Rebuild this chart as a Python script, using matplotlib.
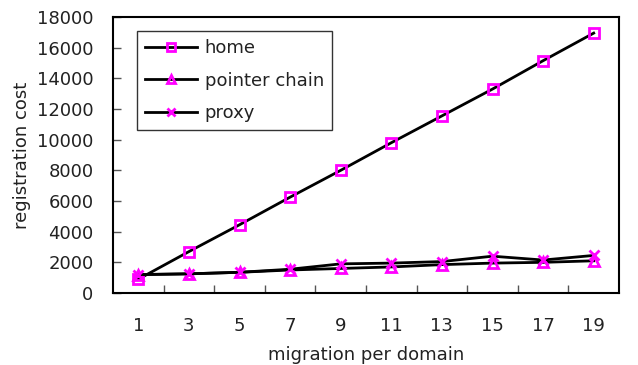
import matplotlib
matplotlib.use("Agg")
import matplotlib.pyplot as plt
import numpy as np

categories = ["1", "3", "5", "7", "9", "11", "13", "15", "17", "19"]
home = [900, 2700, 4450, 6250, 8000, 9800, 11550, 13300, 15150, 16950]
pointer_chain = [1200, 1250, 1350, 1500, 1600, 1700, 1850, 1950, 2000, 2100]
proxy = [1200, 1250, 1350, 1550, 1900, 1950, 2050, 2400, 2150, 2450]

plt.rcParams['font.family'] = ['DejaVu Sans']
txt = "#222222"
fs = 13
fig = plt.figure(figsize=(6.38, 3.65), dpi=100)
ax = fig.add_axes([113/638, (365-293)/365, (619-113)/638, (293-17)/365])

x = np.arange(len(categories))
mag = "#FF00FF"
common = dict(color="black", lw=2, markersize=7, markerfacecolor="none",
              markeredgecolor=mag, markeredgewidth=2)
ax.plot(x, home, marker="s", label="home", **common)
ax.plot(x, pointer_chain, marker="^", label="pointer chain", **common)
ax.plot(x, proxy, marker="x", label="proxy", **common)

ax.set_xlim(-0.5, len(categories) - 0.5)
ax.set_ylim(0, 18000)
ax.set_yticks(np.arange(0, 18001, 2000))
ax.set_xticks(x)
ax.set_xticklabels(categories)
ax.set_xticks(np.arange(0.5, len(categories) - 1, 1), minor=True)
ax.tick_params(axis="x", which="major", length=0, labelsize=fs, pad=17, labelcolor=txt)
ax.tick_params(axis="x", which="minor", direction="in", length=6, width=1, color="#555555")
ax.tick_params(axis="y", direction="in", length=6, width=1, color="#555555",
               labelsize=fs, pad=14, labelcolor=txt)
for s in ax.spines.values():
    s.set_linewidth(1.5)
    s.set_color("black")

ax.set_xlabel("migration per domain", fontsize=fs, labelpad=8, color=txt)
ax.set_ylabel("registration cost", fontsize=fs, labelpad=4, color=txt)

leg = ax.legend(loc="upper left", bbox_to_anchor=(137/638, 1 - 31/365),
                bbox_transform=fig.transFigure, borderaxespad=0, fontsize=fs, frameon=True,
                fancybox=False, framealpha=1, edgecolor="#333333",
                handlelength=2.9, borderpad=0.45, labelspacing=0.8, handletextpad=0.4,
                markerscale=0.75)
leg.get_frame().set_linewidth(1.0)
for t in leg.get_texts():
    t.set_color(txt)

fig.savefig("out.png", dpi=100)
